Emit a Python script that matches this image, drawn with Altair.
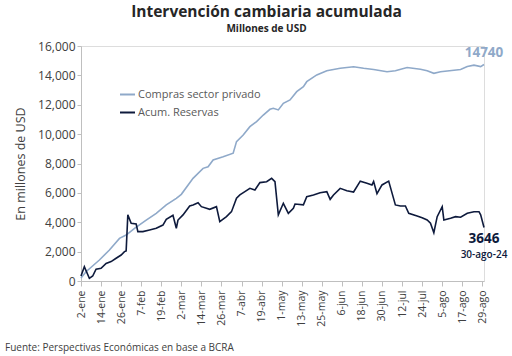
import altair as alt
import pandas as pd

# --- data (millions of USD) ---
compras_dates = ["2024-01-02", "2024-01-05", "2024-01-13", "2024-01-19", "2024-01-25", "2024-01-29",
                 "2024-02-03", "2024-02-10", "2024-02-16", "2024-02-22", "2024-02-28", "2024-03-02",
                 "2024-03-09", "2024-03-15", "2024-03-18", "2024-03-21", "2024-03-27", "2024-04-02",
                 "2024-04-04", "2024-04-08", "2024-04-12", "2024-04-16", "2024-04-20", "2024-04-24",
                 "2024-04-26", "2024-04-29", "2024-05-02", "2024-05-06", "2024-05-10", "2024-05-14",
                 "2024-05-16", "2024-05-22", "2024-05-28", "2024-06-05", "2024-06-13", "2024-06-19",
                 "2024-06-25", "2024-07-03", "2024-07-08", "2024-07-15", "2024-07-23", "2024-07-27",
                 "2024-07-31", "2024-08-04", "2024-08-16", "2024-08-20", "2024-08-24", "2024-08-28",
                 "2024-08-30"]
compras_vals = [200, 630, 1430, 2110, 2900, 3130,
                3590, 4150, 4610, 5180, 5630, 5900,
                6990, 7670, 7780, 8240, 8460, 8700,
                9490, 9940, 10510, 10850, 11300, 11690,
                11760, 11650, 12100, 12330, 12890, 13230,
                13570, 14030, 14320, 14480, 14590, 14480,
                14400, 14250, 14320, 14540, 14420, 14320,
                14140, 14250, 14400, 14600, 14700, 14600,
                14740]

reservas_dates = ["2024-01-02", "2024-01-04", "2024-01-07", "2024-01-09", "2024-01-11", "2024-01-14",
                  "2024-01-17", "2024-01-20", "2024-01-23", "2024-01-26", "2024-01-28", "2024-01-29",
                  "2024-01-30", "2024-02-01", "2024-02-04", "2024-02-05", "2024-02-08", "2024-02-12",
                  "2024-02-16", "2024-02-20", "2024-02-22", "2024-02-26", "2024-02-28", "2024-02-29",
                  "2024-03-03", "2024-03-07", "2024-03-09", "2024-03-12", "2024-03-14", "2024-03-17",
                  "2024-03-19", "2024-03-23", "2024-03-25", "2024-03-29", "2024-04-01", "2024-04-04",
                  "2024-04-06", "2024-04-09", "2024-04-12", "2024-04-15", "2024-04-18", "2024-04-22",
                  "2024-04-25", "2024-04-27", "2024-04-29", "2024-05-02", "2024-05-05", "2024-05-08",
                  "2024-05-09", "2024-05-14", "2024-05-16", "2024-05-20", "2024-05-24", "2024-05-28",
                  "2024-05-30", "2024-06-01", "2024-06-05", "2024-06-09", "2024-06-13", "2024-06-17",
                  "2024-06-21", "2024-06-24", "2024-06-25", "2024-06-27", "2024-06-30", "2024-07-04",
                  "2024-07-08", "2024-07-11", "2024-07-14", "2024-07-16", "2024-07-21", "2024-07-24",
                  "2024-07-27", "2024-07-29", "2024-07-31", "2024-08-02", "2024-08-05", "2024-08-06",
                  "2024-08-10", "2024-08-13", "2024-08-16", "2024-08-20", "2024-08-24", "2024-08-27",
                  "2024-08-28", "2024-08-30"]
reservas_vals = [340, 970, 180, 340, 800, 860,
                 1200, 1320, 1550, 1770, 2000, 2050,
                 4500, 3930, 3880, 3360, 3360, 3470,
                 3590, 3810, 4200, 4480, 3590, 4150,
                 4500, 5110, 5180, 5330, 5060, 4950,
                 4880, 5060, 4040, 4380, 4720, 5630,
                 5860, 6080, 6310, 6200, 6700, 6760,
                 6990, 6760, 4500, 5290, 4610, 4950,
                 5240, 5180, 5740, 5860, 6010, 6080,
                 5560, 5860, 6310, 6150, 6060, 6800,
                 6650, 6540, 6780, 5950, 6540, 6800,
                 5180, 5110, 5110, 4610, 4430, 4300,
                 4150, 3930, 3290, 4380, 5060, 4150,
                 4270, 4380, 4340, 4610, 4720, 4720,
                 4500, 3646]

series_names = ["Compras sector privado", "Acum. Reservas"]
series_colors = ["#8FA9C9", "#0E1A3C"]

tick_dates = ["2024-01-02", "2024-01-14", "2024-01-26", "2024-02-07", "2024-02-19", "2024-03-02",
              "2024-03-14", "2024-03-26", "2024-04-07", "2024-04-19", "2024-05-01", "2024-05-13",
              "2024-05-25", "2024-06-06", "2024-06-18", "2024-06-30", "2024-07-12", "2024-07-24",
              "2024-08-05", "2024-08-17", "2024-08-29"]
y_ticks = [0, 2000, 4000, 6000, 8000, 10000, 12000, 14000, 16000]
month_names = ["ene", "feb", "mar", "abr", "may", "jun", "jul", "ago", "sep", "oct", "nov", "dic"]

FONT = "Open Sans"

df = pd.concat([
    pd.DataFrame({"fecha": compras_dates, "valor": compras_vals, "serie": series_names[0]}),
    pd.DataFrame({"fecha": reservas_dates, "valor": reservas_vals, "serie": series_names[1]}),
])


def dt(s):
    y, m, d = (int(p) for p in s.split("-"))
    return alt.DateTime(year=y, month=m, date=d, utc=True)


month_js = "[" + ",".join("'%s'" % m for m in month_names) + "]"
label_expr = "utcdate(datum.value) + '-' + " + month_js + "[utcmonth(datum.value)]"

x_enc = alt.X(
    "fecha:T",
    scale=alt.Scale(type="utc", domain=[dt(compras_dates[0]), dt(compras_dates[-1])]),
    axis=alt.Axis(
        values=[dt(t) for t in tick_dates], labelExpr=label_expr, labelAngle=-90,
        labelFontSize=10.5, labelColor="#404040", labelFont=FONT, labelPadding=4,
        labelOverlap=False, labelBound=False, labelFlush=False,
        tickColor="#bfbfbf", domainColor="#bfbfbf", tickSize=5, grid=False, title=None,
    ),
)
y_enc = alt.Y(
    "valor:Q",
    scale=alt.Scale(domain=[0, 16000]),
    axis=alt.Axis(
        values=y_ticks, format=",d", labelFontSize=12, labelColor="#404040",
        labelFont=FONT, tickColor="#bfbfbf", domainColor="#bfbfbf", tickSize=4, grid=False,
        labelOverlap=False, labelFlush=False,
        title="En millones de USD", titleFontSize=12.5, titleFontWeight="normal",
        titleColor="#404040", titleFont=FONT, titlePadding=10,
    ),
)

lines = alt.Chart(df).mark_line(strokeWidth=1.6).encode(
    x=x_enc,
    y=y_enc,
    color=alt.Color(
        "serie:N",
        scale=alt.Scale(domain=series_names, range=series_colors),
        legend=alt.Legend(
            title=None, orient="none", legendX=38, legendY=40, symbolType="stroke",
            symbolSize=225, symbolStrokeWidth=2, labelFontSize=11, labelColor="#595959",
            labelFont=FONT, rowPadding=4, labelOffset=2,
        ),
    ),
    order=alt.Order("fecha:T"),
)

last_c = pd.DataFrame({"fecha": [compras_dates[-1]], "valor": [compras_vals[-1]]})
last_r = pd.DataFrame({"fecha": [reservas_dates[-1]], "valor": [reservas_vals[-1]],
                       "lbl": ["30-ago-24"]})

lab_c = alt.Chart(last_c).mark_text(
    font=FONT, fontSize=13.5, fontWeight="bold", color=series_colors[0], dy=-8, baseline="alphabetic"
).encode(x=x_enc, y=y_enc, text=alt.Text("valor:Q", format="d"))

lab_r = alt.Chart(last_r).mark_text(
    font=FONT, fontSize=13.5, fontWeight="bold", color=series_colors[1], dy=16, baseline="alphabetic"
).encode(x=x_enc, y=y_enc, text=alt.Text("valor:Q", format="d"))

lab_r2 = alt.Chart(last_r).mark_text(
    font=FONT, fontSize=10, fontWeight=600, color=series_colors[1], dy=31, baseline="alphabetic"
).encode(x=x_enc, y=y_enc, text="lbl:N")

footer = alt.Chart(pd.DataFrame({"t": ["Fuente: Perspectivas Económicas en base a BCRA"]})).mark_text(
    font=FONT, fontSize=10, color="#404040", align="left", baseline="alphabetic"
).encode(x=alt.value(-76), y=alt.value(305), text="t:N")

chart = alt.layer(lines, lab_c, lab_r, lab_r2, footer).properties(
    width=403, height=235,
    autosize=alt.AutoSizeParams(type="none"),
    padding={"left": 81, "top": 46, "right": 28, "bottom": 75},
    title=alt.Title(
        "Intervención cambiaria acumulada", subtitle="Millones de USD",
        font=FONT, fontSize=15.5, fontWeight="bold", color="#262626",
        subtitleFont=FONT, subtitleFontSize=10, subtitleFontWeight="bold", subtitleColor="#262626",
        anchor="middle", dx=-16, offset=6, subtitlePadding=4,
    ),
).configure_view(stroke=None).configure(background="white")

chart.save("out.html", embed_options={"renderer": "svg", "actions": False})
